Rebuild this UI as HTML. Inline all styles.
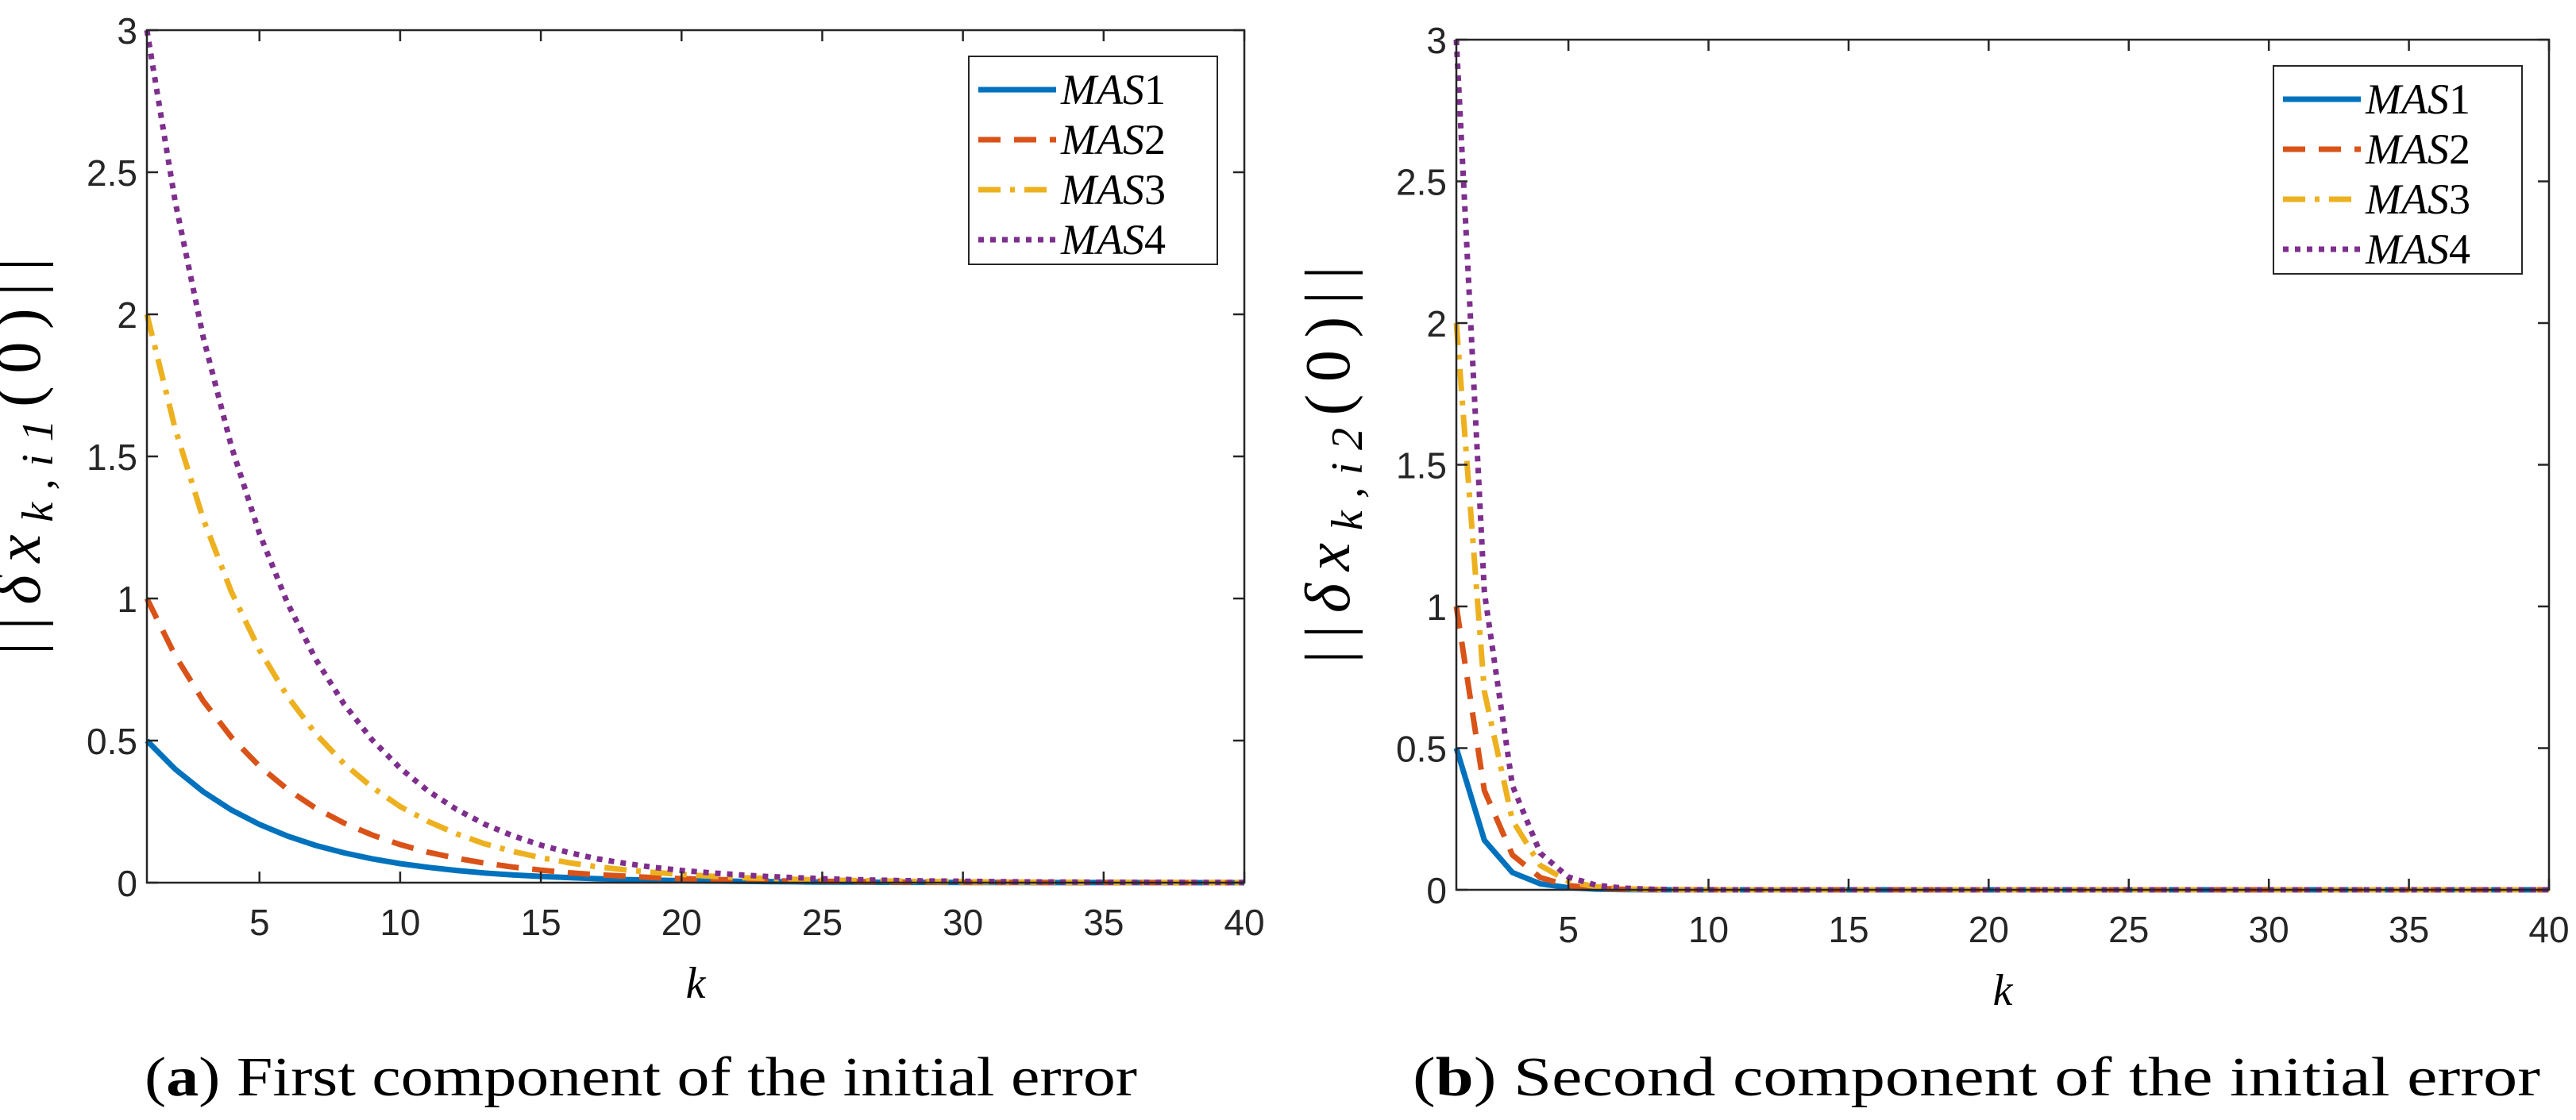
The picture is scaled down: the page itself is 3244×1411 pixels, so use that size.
<!DOCTYPE html>
<html><head><meta charset="utf-8"><style>
html,body{margin:0;padding:0;background:#fff;}
svg{display:block;}
</style></head><body>
<svg id="fig" width="3244" height="1411" viewBox="0 0 3244 1411" xmlns="http://www.w3.org/2000/svg"></svg>
<script>
const kValues = [1,2,3,4,5,6,7,8,9,10,11,12,13,14,15,16,17,18,19,20,21,22,23,24,25,26,27,28,29,30,31,32,33,34,35,36,37,38,39,40];
const xTicks = [5,10,15,20,25,30,35,40];
const yTicks = [0,0.5,1,1.5,2,2.5,3];
const yTickLabels = ["0","0.5","1","1.5","2","2.5","3"];
const seriesNames = ["MAS1","MAS2","MAS3","MAS4"];
const a_mas1 = [0.5,0.4,0.32,0.256,0.205,0.164,0.131,0.105,0.084,0.067,0.054,0.043,0.034,0.027,0.022,0.018,0.014,0.011,0.009,0.007,0.006,0.005,0.004,0.003,0.002,0.002,0.0015,0.0012,0.001,0.0008,0.0006,0.0005,0.0004,0.0003,0.0002,0.0002,0.0001,0.0001,0.0001,0.0001];
const a_mas2 = [1,0.8,0.64,0.512,0.41,0.328,0.262,0.21,0.168,0.134,0.107,0.086,0.069,0.055,0.044,0.035,0.028,0.023,0.018,0.014,0.012,0.009,0.007,0.006,0.005,0.004,0.003,0.002,0.002,0.0015,0.0012,0.001,0.0008,0.0006,0.0005,0.0004,0.0003,0.0003,0.0002,0.0002];
const a_mas3 = [2,1.6,1.28,1.024,0.819,0.655,0.524,0.419,0.336,0.268,0.215,0.172,0.137,0.11,0.088,0.07,0.056,0.045,0.036,0.029,0.023,0.018,0.015,0.012,0.009,0.008,0.006,0.005,0.004,0.003,0.0025,0.002,0.0016,0.0013,0.001,0.0008,0.0006,0.0005,0.0004,0.0003];
const a_mas4 = [3,2.4,1.92,1.536,1.229,0.983,0.786,0.629,0.503,0.403,0.322,0.258,0.206,0.165,0.132,0.106,0.084,0.068,0.054,0.043,0.035,0.028,0.022,0.018,0.014,0.011,0.009,0.007,0.006,0.005,0.004,0.003,0.0024,0.0019,0.0015,0.0012,0.001,0.0008,0.0006,0.0005];
const b_mas1 = [0.5,0.175,0.061,0.021,0.0075,0.0026,0.0009,0.0003,0.0001,0,0,0,0,0,0,0,0,0,0,0,0,0,0,0,0,0,0,0,0,0,0,0,0,0,0,0,0,0,0,0];
const b_mas2 = [1,0.35,0.123,0.043,0.015,0.0053,0.0018,0.0006,0.0002,0.0001,0,0,0,0,0,0,0,0,0,0,0,0,0,0,0,0,0,0,0,0,0,0,0,0,0,0,0,0,0,0];
const b_mas3 = [2,0.7,0.245,0.086,0.03,0.0105,0.0037,0.0013,0.0005,0.0002,0.0001,0,0,0,0,0,0,0,0,0,0,0,0,0,0,0,0,0,0,0,0,0,0,0,0,0,0,0,0,0];
const b_mas4 = [3,1.05,0.368,0.129,0.045,0.016,0.0055,0.0019,0.0007,0.0002,0.0001,0,0,0,0,0,0,0,0,0,0,0,0,0,0,0,0,0,0,0,0,0,0,0,0,0,0,0,0,0];

const NS="http://www.w3.org/2000/svg";
const svg=document.getElementById('fig');
const colors=["#0072BD","#D95319","#EDB120","#7E2F8E"];
const dashes=["","28,17","28,12,6,12","7,8"];
function mk(tag,attrs,parent){const e=document.createElementNS(NS,tag);for(const k in attrs)e.setAttribute(k,attrs[k]);(parent||svg).appendChild(e);return e;}

function panel(p){
  const g=mk('g',{});
  
  
  const X=v=>p.L+(v-1)/(39)*(p.R-p.L);
  const Y=v=>p.B-v/3*(p.B-p.T);
  p.series.forEach((arr,i)=>{
    const d=arr.map((v,j)=>(j?'L':'M')+X(kValues[j]).toFixed(1)+','+Y(v).toFixed(1)).join(' ');
    const path=mk('path',{d:d,fill:'none',stroke:colors[i],'stroke-width':7,'stroke-dasharray':dashes[i]},g);
    
    
  });
  const box=mk('rect',{x:p.L,y:p.T,width:p.R-p.L,height:p.B-p.T,fill:'none',stroke:'#262626','stroke-width':2.5},g);
  
  
  xTicks.forEach(t=>{
    const x=X(t);
    mk('line',{x1:x,x2:x,y1:p.B,y2:p.B-14,stroke:'#262626','stroke-width':2.5},g);
    mk('line',{x1:x,x2:x,y1:p.T,y2:p.T+14,stroke:'#262626','stroke-width':2.5},g);
    const tx=mk('text',{x:x,y:p.B+66,'text-anchor':'middle','font-size':46,fill:'#262626','font-family':'Liberation Sans, sans-serif'},g);
    tx.textContent=t;
    
    
  });
  yTicks.forEach((t,i)=>{
    const y=Y(t);
    mk('line',{x1:p.L,x2:p.L+14,y1:y,y2:y,stroke:'#262626','stroke-width':2.5},g);
    mk('line',{x1:p.R,x2:p.R-14,y1:y,y2:y,stroke:'#262626','stroke-width':2.5},g);
    const tx=mk('text',{x:p.L-12,y:y+17,'text-anchor':'end','font-size':46,fill:'#262626','font-family':'Liberation Sans, sans-serif'},g);
    tx.textContent=yTickLabels[i];
    
    
  });
  const xl=mk('text',{x:(p.L+p.R)/2,y:p.B+145,'text-anchor':'middle','font-size':56,'font-style':'italic',fill:'#000','font-family':'Liberation Serif, serif'},g);
  xl.textContent='k';
  
  
  const yl=mk('text',{x:0,y:0,'text-anchor':'middle','font-size':80,fill:'#000','font-family':'Liberation Serif, serif',textLength:500,lengthAdjust:'spacing',transform:'translate('+(p.L-135)+','+((p.T+p.B)/2)+') rotate(-90)'},g);
  yl.innerHTML='||<tspan font-style="italic">δx</tspan><tspan font-size="56" font-style="italic" dy="16">k,'+p.sub+'</tspan><tspan dy="-16">(0)</tspan>||';
  
  
  const lg=mk('g',{},g);
  
  
  mk('rect',{x:p.lx,y:p.ly,width:313,height:262,fill:'#fff',stroke:'#262626','stroke-width':2},lg);
  seriesNames.forEach((n,i)=>{
    const cy=p.ly+42+i*63;
    const ln=mk('line',{x1:p.lx+12,x2:p.lx+110,y1:cy,y2:cy,stroke:colors[i],'stroke-width':7,'stroke-dasharray':dashes[i]},lg);
    
    
    const t=mk('text',{x:p.lx+116,y:cy+18,'font-size':54,fill:'#000','font-family':'Liberation Serif, serif'},lg);
    t.innerHTML='<tspan font-style="italic">MAS</tspan>'+n.slice(3);
    
    
  });
  const cap=mk('text',{x:p.capx,y:1380,'font-size':70,fill:'#000','font-family':'Liberation Serif, serif',textLength:p.capw,lengthAdjust:'spacingAndGlyphs'},g);
  cap.innerHTML='(<tspan font-weight="bold">'+p.letter+'</tspan>) '+p.caption;
  
  
}
panel({id:'panel-a',L:185,R:1567,T:38,B:1112,sub:'i1',series:[a_mas1,a_mas2,a_mas3,a_mas4],lx:1220,ly:71,capx:182,capw:1250,letter:'a',caption:'First component of the initial error'});
panel({id:'panel-b',L:1834,R:3210,T:50,B:1121,sub:'i2',series:[b_mas1,b_mas2,b_mas3,b_mas4],lx:2863,ly:83,capx:1779,capw:1420,letter:'b',caption:'Second component of the initial error'});
</script>
</body></html>
